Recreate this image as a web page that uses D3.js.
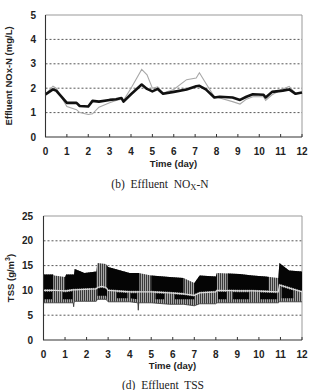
<!DOCTYPE html>
<html>
<head>
<meta charset="utf-8">
<script src="https://cdn.jsdelivr.net/npm/d3@7"></script>
<style>
  body { margin: 0; background: #fff; }
  svg { display: block; }
  .tick-lab { font-family: "Liberation Sans", Arial, sans-serif; font-weight: bold; font-size: 10px; fill: #222; }
  .ttl { font-family: "Liberation Sans", Arial, sans-serif; font-weight: bold; font-size: 9.5px; fill: #222; }
  .cap { font-family: "Liberation Serif", "Times New Roman", serif; font-size: 11.5px; fill: #222; white-space: pre; }
</style>
</head>
<body>
<script>
// ---- data: effluent NOx-N (mg/L) ----
var noxTime = [0,0.35,0.5,1.0,1.45,1.6,2.0,2.2,2.5,3.0,3.3,3.55,3.65,4.0,4.5,4.75,5.0,5.25,5.5,6.0,6.6,7.05,7.2,7.5,7.9,8.15,8.75,9.1,9.4,9.7,10.2,10.3,10.6,11.1,11.4,11.7,12];
var noxSim   = [1.75,1.95,1.9,1.4,1.4,1.27,1.25,1.48,1.45,1.52,1.55,1.6,1.45,1.75,2.15,1.97,1.87,1.97,1.77,1.85,1.95,2.08,2.1,1.95,1.62,1.65,1.62,1.52,1.65,1.75,1.73,1.62,1.85,1.9,1.95,1.77,1.82];
var noxMeas  = [1.75,2.08,2.0,1.25,1.12,1.0,0.92,0.95,1.22,1.4,1.5,1.55,1.5,2.0,2.77,2.55,2.0,2.05,1.8,1.95,2.35,2.42,2.63,2.2,1.65,1.6,1.45,1.35,1.55,1.65,1.65,1.5,1.73,1.97,2.07,1.78,1.83];

// ---- data: effluent TSS (g/m3), band of readings ----
var tssTime = [0,0.45,0.5,1.0,1.05,1.38,1.4,1.42,1.45,1.9,2.45,2.5,2.7,2.9,3.0,4.0,4.38,4.4,4.42,5.0,5.85,6.5,7.0,7.25,8.0,8.05,9.1,9.7,10.3,10.9,10.95,11.4,12];
var tssHigh = [13.2,13.2,13.0,12.7,13.2,13.2,13.2,13.2,14.3,13.5,13.8,15.5,15.4,15.3,14.7,13.5,13.5,13.5,13.5,13.0,12.7,12.5,11.5,13.0,12.8,13.5,13.3,13.0,12.8,12.5,15.5,14.0,13.8];
var tssMid  = [10.0,10.0,10.0,9.9,9.9,10.1,10.1,10.1,10.1,10.2,10.3,10.6,10.8,10.6,10.0,9.7,9.7,9.7,9.7,9.7,9.5,9.3,9.0,9.5,9.7,10.0,9.9,9.9,9.8,9.7,11.1,10.5,9.7];
var tssLow  = [7.5,7.5,7.5,7.5,7.5,7.5,6.7,7.5,7.8,7.8,7.8,8.2,8.2,8.2,7.7,7.7,7.5,6.0,7.5,7.5,7.2,7.2,6.9,7.3,7.3,7.5,7.5,7.5,7.5,7.5,7.7,7.7,7.7];
// periods where the upper readings are sparse (hatched) and where lower readings are dense (solid)
var upperSparse = [[0.45,1.0],[2.45,2.95],[4.45,5.0],[6.5,7.0],[8.05,8.55],[10.45,10.9]];
var lowerDense  = [[0,0.4],[0.9,1.35],[2.5,2.95],[3.4,3.9],[4.05,4.35],[5.2,5.6],[6.1,7.0],[8.1,8.5],[8.8,9.55],[10.05,10.85],[11.05,11.6]];

var dayTicks = d3.range(0, 13);
var noxTicks = [0,1,2,3,4,5];
var tssTicks = [0,5,10,15,20,25];

var svg = d3.select("body").append("svg").attr("width", 311).attr("height", 390);

var defs = svg.append("defs");
var pat = defs.append("pattern").attr("id", "hatch").attr("patternUnits", "userSpaceOnUse")
    .attr("width", 2).attr("height", 4);
pat.append("rect").attr("width", 2).attr("height", 4).attr("fill", "#a6a6a6");
pat.append("rect").attr("width", 1).attr("height", 4).attr("fill", "#3a3a3a");

function frame(x, y, yTicks, labX) {
    var x0 = x.range()[0], x1 = x.range()[1], y0 = y.range()[0], y1 = y.range()[1];
    // dotted grid
    svg.append("g").selectAll("line").data(yTicks.slice(1, -1)).enter().append("line")
        .attr("x1", x0).attr("x2", x1).attr("y1", d => y(d)).attr("y2", d => y(d))
        .attr("stroke", "#444").attr("stroke-width", 0.9).attr("stroke-dasharray", "2,2");
    // gray frame top/right
    svg.append("path").attr("d", "M" + x0 + "," + y1 + "H" + x1 + "V" + y0)
        .attr("fill", "none").attr("stroke", "#999").attr("stroke-width", 1);
    // y labels
    svg.append("g").selectAll("text").data(yTicks).enter().append("text")
        .attr("class", "tick-lab").attr("x", labX).attr("y", d => y(d) + 3.5)
        .attr("text-anchor", "end").text(d => d);
    // x labels
    svg.append("g").selectAll("text").data(dayTicks).enter().append("text")
        .attr("class", "tick-lab").attr("x", d => x(d)).attr("y", y0 + 17.5)
        .attr("text-anchor", "middle").text(d => d);
}

function axes(x, y) {
    var x0 = x.range()[0], x1 = x.range()[1], y0 = y.range()[0], y1 = y.range()[1];
    svg.append("g").selectAll("line").data(dayTicks).enter().append("line")
        .attr("x1", d => x(d)).attr("x2", d => x(d)).attr("y1", y0).attr("y2", y0 - 3)
        .attr("stroke", "#333").attr("stroke-width", 1);
    svg.append("path").attr("d", "M" + x0 + "," + y1 + "V" + y0 + "H" + x1)
        .attr("fill", "none").attr("stroke", "#333").attr("stroke-width", 1.1);
}

// ================= (b) NOx-N =================
var xb = d3.scaleLinear().domain([0, 12]).range([45.5, 302]);
var yb = d3.scaleLinear().domain([0, 5]).range([137, 15]);
frame(xb, yb, noxTicks, 36);

var lineB = d3.line().x(d => xb(d[0])).y(d => yb(d[1]));
svg.append("path").datum(noxTime.map((t, i) => [t, noxMeas[i]])).attr("d", lineB)
    .attr("fill", "none").attr("stroke", "#a8a8a8").attr("stroke-width", 1.1);
svg.append("path").datum(noxTime.map((t, i) => [t, noxSim[i]])).attr("d", lineB)
    .attr("fill", "none").attr("stroke", "#111").attr("stroke-width", 2.6).attr("stroke-linejoin", "round");
axes(xb, yb);

svg.append("text").attr("class", "ttl").attr("x", 173.5).attr("y", 167).attr("text-anchor", "middle").text("Time (day)");
svg.append("text").attr("class", "ttl").attr("transform", "translate(12,76) rotate(-90)")
    .attr("text-anchor", "middle").text("Effluent NOx-N (mg/L)");
var capB = svg.append("text").attr("class", "cap").attr("x", 160).attr("y", 188).attr("text-anchor", "middle");
capB.append("tspan").text("(b)  Effluent  NO");
capB.append("tspan").attr("font-size", "8.5px").attr("dy", 2).text("X");
capB.append("tspan").attr("dy", -2).text("-N");

// ================= (d) TSS =================
var xd = d3.scaleLinear().domain([0, 12]).range([43.5, 302]);
var yd = d3.scaleLinear().domain([0, 25]).range([340, 216]);
frame(xd, yd, tssTicks, 33);

var tss = tssTime.map((t, i) => ({t: t, hi: tssHigh[i], mid: tssMid[i], lo: tssLow[i]}));

function clipFor(id, intervals, invert) {
    var cp = defs.append("clipPath").attr("id", id);
    var spans = intervals;
    if (invert) {
        spans = [];
        var s = 0;
        intervals.forEach(function (iv) { if (iv[0] > s) spans.push([s, iv[0]]); s = iv[1]; });
        if (s < 12) spans.push([s, 12]);
    }
    cp.selectAll("rect").data(spans).enter().append("rect")
        .attr("x", d => xd(d[0])).attr("width", d => xd(d[1]) - xd(d[0]))
        .attr("y", 200).attr("height", 150);
}
clipFor("upperClip", upperSparse, true);
clipFor("lowerClip", lowerDense, false);

// whole band as sparse (hatched) readings
svg.append("path").datum(tss)
    .attr("d", d3.area().x(d => xd(d.t)).y0(d => yd(d.lo)).y1(d => yd(d.hi)))
    .attr("fill", "url(#hatch)");
// dense upper readings
svg.append("path").datum(tss)
    .attr("d", d3.area().x(d => xd(d.t)).y0(d => yd(d.mid + 0.25)).y1(d => yd(d.hi)))
    .attr("fill", "#050505").attr("clip-path", "url(#upperClip)");
// dense lower readings
svg.append("path").datum(tss)
    .attr("d", d3.area().x(d => xd(d.t)).y0(d => yd(Math.max(d.lo, 7.5) + 0.7)).y1(d => yd(d.mid - 0.25)))
    .attr("fill", "#050505").attr("clip-path", "url(#lowerClip)");
// spikes in lower readings
svg.append("path").datum(tss)
    .attr("d", d3.line().x(d => xd(d.t)).y(d => yd(d.lo)))
    .attr("fill", "none").attr("stroke", "#333").attr("stroke-width", 0.8);
// middle line
svg.append("path").datum(tss)
    .attr("d", d3.line().x(d => xd(d.t)).y(d => yd(d.mid)))
    .attr("fill", "none").attr("stroke", "#dcdcdc").attr("stroke-width", 1.1);
axes(xd, yd);

svg.append("text").attr("class", "ttl").attr("x", 172.5).attr("y", 369).attr("text-anchor", "middle").text("Time (day)");
var yl = svg.append("text").attr("class", "ttl").attr("transform", "translate(14,278) rotate(-90)")
    .attr("text-anchor", "middle");
yl.append("tspan").text("TSS (g/m");
yl.append("tspan").attr("font-size", "7px").attr("dy", -4).text("3");
yl.append("tspan").attr("dy", 4).text(")");
svg.append("text").attr("class", "cap").attr("x", 163).attr("y", 389).attr("text-anchor", "middle").text("(d)  Effluent  TSS");
</script>
</body>
</html>
